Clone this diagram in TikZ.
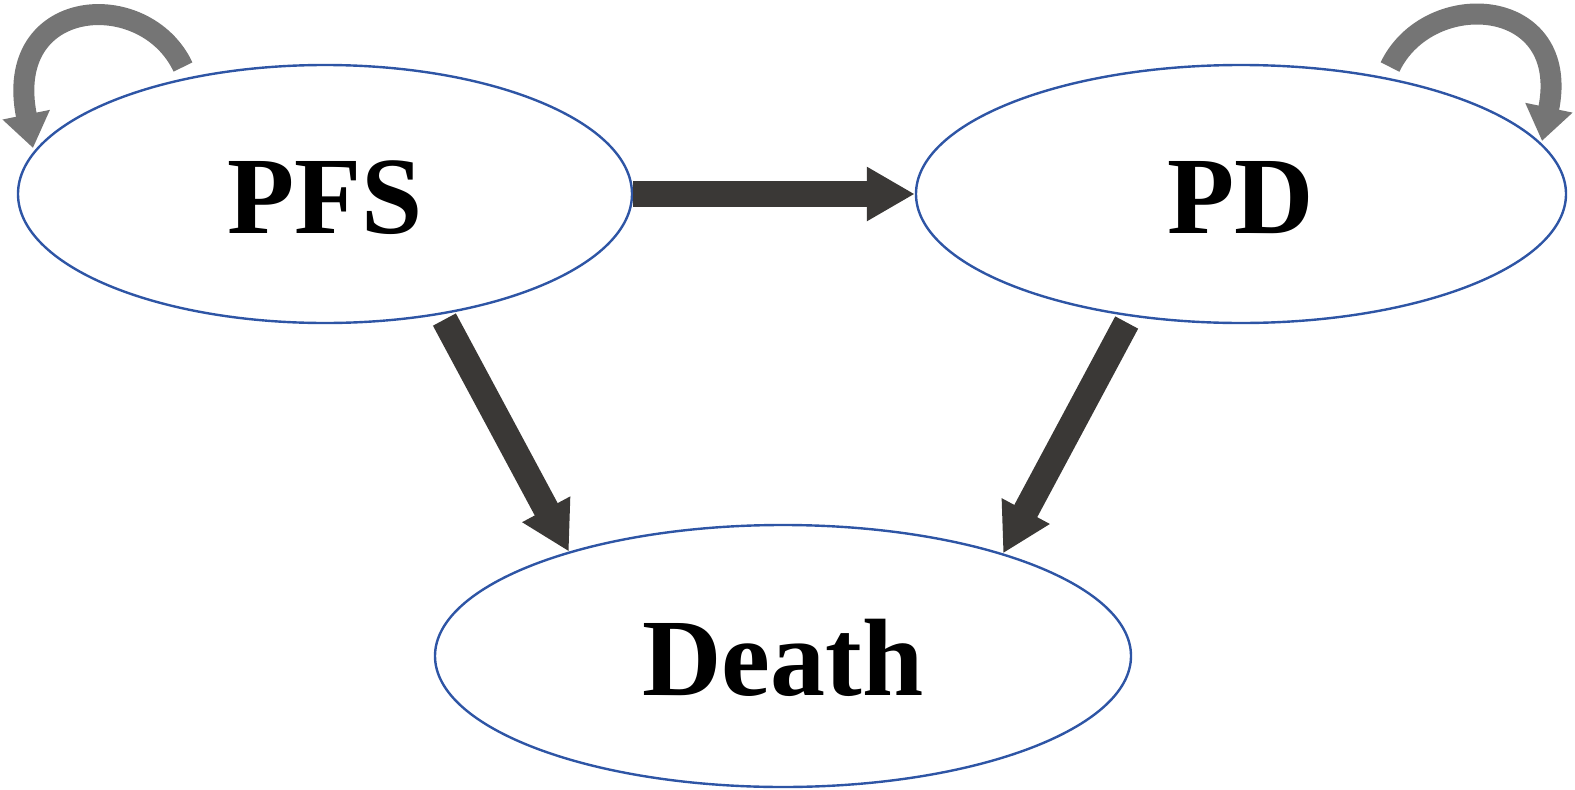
\documentclass[tikz,border=0pt]{standalone}
\usepackage{fontspec}
\setmainfont{Liberation Serif}[BoldFont={Liberation Serif Bold}]
\usetikzlibrary{shapes.geometric,arrows.meta}
\definecolor{ellblue}{HTML}{2E55A5}
\definecolor{arrdark}{HTML}{3A3836}
\definecolor{loopgray}{HTML}{757575}
\tikzset{
  state/.style={ellipse, draw=ellblue, line width=2.4pt, inner sep=0pt,
    text height=80pt, text depth=2pt,
    font=\fontsize{110}{110}\selectfont\bfseries},
  fat/.style={draw=arrdark, line width=26pt, -{Triangle[length=48pt,width=51pt,fill=arrdark]}},
  loopy/.style={draw=loopgray, line width=21pt, -{Triangle[length=34pt,width=46pt,fill=loopgray]}}
}
\begin{document}
\begin{tikzpicture}[x=1pt,y=-1pt]
\useasboundingbox (0,0) rectangle (1575,790);
\node[state, minimum width=614pt, minimum height=258pt] (pfs) at (325,194) {PFS};
\node[state, minimum width=650pt, minimum height=258pt] (pd) at (1241,194) {PD};
\node[state, minimum width=696pt, minimum height=262pt] (death) at (783,656) {Death};
% straight transitions
\draw[fat] (pfs.east) -- (pd.west);
\draw[fat] ([shift={(3pt,-5pt)}]pfs.-46) -- (death.154);
\draw[fat] ([shift={(-4pt,-6pt)}]pd.-132) -- (death.25);
% self loops
\coordinate (l1) at (183,67);
\coordinate (l2) at (33,148);
\coordinate (r1) at (1390,67);
\coordinate (r2) at (1542,141);
\draw[loopy] (l1) .. controls (145,-14) and (2,-4) .. (l2);
\draw[loopy] (r1) .. controls (1429,-14) and (1572,-4) .. (r2);
\end{tikzpicture}
\end{document}
